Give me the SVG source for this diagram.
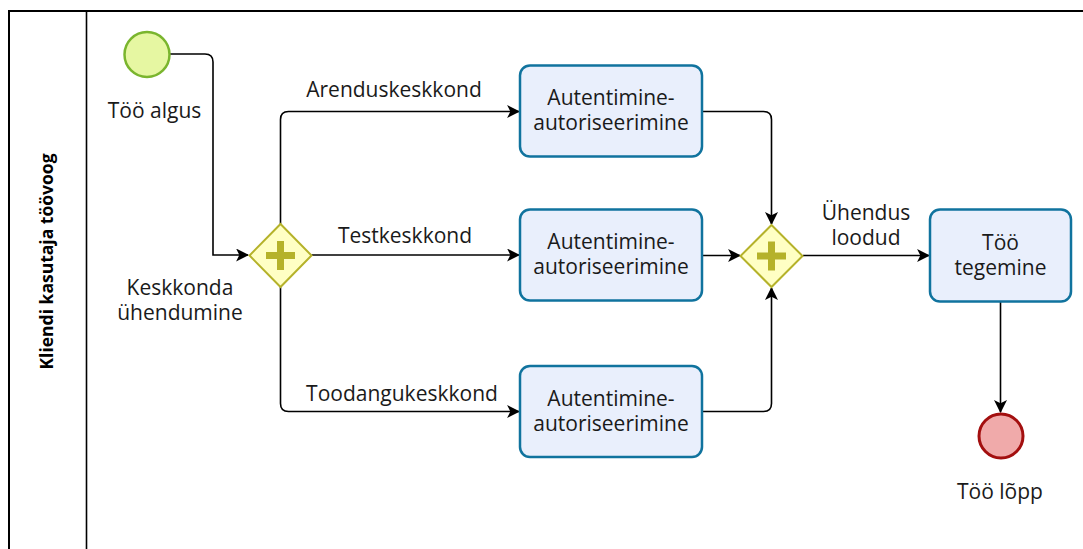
<svg xmlns="http://www.w3.org/2000/svg" width="1083" height="549" viewBox="0 0 1083 549">
<style>
text{font-family:"Open Sans","Noto Sans","Liberation Sans",sans-serif;font-size:21px;fill:#1a1a1a;text-anchor:middle}
.title{font-weight:bold;font-size:17.5px;fill:#000}
.task{fill:#e9effc;stroke:#10739e;stroke-width:2.5}
.gw{fill:#ffffc4;stroke:#b5b22a;stroke-width:2}
.plus{stroke:#b5b22a;stroke-width:7;fill:none}
.conn{fill:none;stroke:#000;stroke-width:1.6}
</style>
<defs>
<marker id="arr" viewBox="0 0 12 12" refX="11" refY="6" markerWidth="13" markerHeight="13" markerUnits="userSpaceOnUse" orient="auto">
<path d="M0,0 L12,6 L0,12 L3,6 Z" fill="#000"/>
</marker>
</defs>
<rect width="1083" height="549" fill="#fff"/>
<g id="pool">
<path d="M9,560 V11 H1090" fill="none" stroke="#000" stroke-width="2"/>
<line x1="86.5" y1="11" x2="86.5" y2="560" stroke="#000" stroke-width="1.6"/>
<text class="title" transform="translate(53,261.5) rotate(-90)">Kliendi kasutaja töövoog</text>
</g>
<g id="connectors">
<path class="conn" d="M170,54 H205 Q213,54 213,62 V255 H248" marker-end="url(#arr)"/>
<path class="conn" d="M280.5,224 V119.5 Q280.5,111.5 288.5,111.5 H519" marker-end="url(#arr)"/>
<path class="conn" d="M311.5,255 H519" marker-end="url(#arr)"/>
<path class="conn" d="M280.5,287 V403.5 Q280.5,411.5 288.5,411.5 H519" marker-end="url(#arr)"/>
<path class="conn" d="M702,111.5 H763.5 Q771.5,111.5 771.5,119.5 V224" marker-end="url(#arr)"/>
<path class="conn" d="M702,255.5 H740" marker-end="url(#arr)"/>
<path class="conn" d="M702,411.5 H763.5 Q771.5,411.5 771.5,403.5 V288" marker-end="url(#arr)"/>
<path class="conn" d="M803,255.5 H929" marker-end="url(#arr)"/>
<path class="conn" d="M1000.5,302 V412" marker-end="url(#arr)"/>
<text x="394" y="97">Arenduskeskkond</text>
<text x="405" y="243">Testkeskkond</text>
<text x="402" y="401">Toodangukeskkond</text>
<text x="866" y="220">Ühendus</text>
<text x="866" y="245">loodud</text>
</g>
<g id="start">
<circle cx="147" cy="54.5" r="22.5" fill="#e6f7a2" stroke="#7ab52e" stroke-width="2.5"/>
<text x="154.5" y="118">Töö algus</text>
</g>
<g id="gateway1">
<path class="gw" d="M280.5,224 L311.5,255.5 L280.5,287 L249.5,255.5 Z"/>
<path class="plus" d="M266,255.5 H295 M280.5,241 V270"/>
<text x="180" y="295">Keskkonda</text>
<text x="180" y="320">ühendumine</text>
</g>
<g id="task1">
<rect class="task" x="520" y="65.5" width="182" height="91" rx="10"/>
<text x="611" y="105">Autentimine-</text>
<text x="611" y="130">autoriseerimine</text>
</g>
<g id="task2">
<rect class="task" x="520" y="209.5" width="182" height="91" rx="10"/>
<text x="611" y="249">Autentimine-</text>
<text x="611" y="274">autoriseerimine</text>
</g>
<g id="task3">
<rect class="task" x="520" y="366" width="182" height="91" rx="10"/>
<text x="611" y="405.5">Autentimine-</text>
<text x="611" y="430.5">autoriseerimine</text>
</g>
<g id="gateway2">
<path class="gw" d="M771.5,225 L802.5,256 L771.5,287 L740.5,256 Z"/>
<path class="plus" d="M757,256 H786 M771.5,241.5 V270.5"/>
</g>
<g id="task4">
<rect class="task" x="930" y="209.5" width="141" height="92" rx="10"/>
<text x="1000.5" y="250">Töö</text>
<text x="1000.5" y="275">tegemine</text>
</g>
<g id="end">
<circle cx="1001" cy="436" r="22" fill="#f0aaaa" stroke="#a30f0f" stroke-width="3"/>
<text x="1000" y="499">Töö lõpp</text>
</g>
</svg>
